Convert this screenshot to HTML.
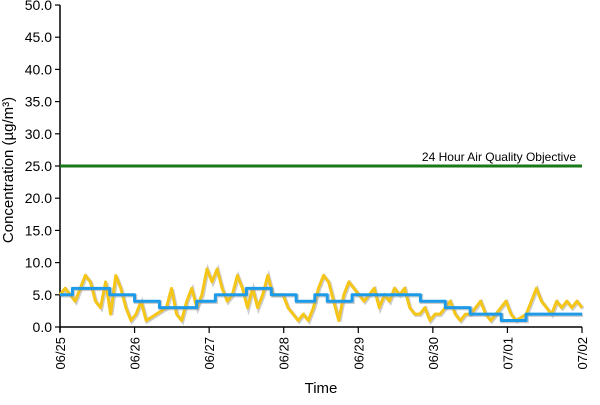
<!DOCTYPE html>
<html><head><meta charset="utf-8"><style>
body{margin:0;background:#fff;}
text{font-family:"Liberation Sans",Arial,sans-serif;fill:#000;}
</style></head><body>
<svg id="chart" width="600" height="400" xmlns="http://www.w3.org/2000/svg"></svg>
<script>
const dayLabels=["06/25","06/26","06/27","06/28","06/29","06/30","07/01","07/02"];
const yTicks=[0,5,10,15,20,25,30,35,40,45,50];
const objective=25;
// 2-hourly readings
const hourlyValues=[5,6,5,4,6,8,7,4,3,7,2,8,6,3,1,2,4,1,1.5,2,2.5,3,6,2,1,4,6,3,5,9,7,9,6,4,5,8,6,3,6,3,5,8,5,5,5,3,2,1,2,1,3,6,8,7,4,1,5,7,6,5,4,5,6,3,5,4,6,5,6,3,2,2,3,1,2,2,3,4,2,1,2,2,3,4,2,1,2,3,4,2,1,1.5,2,4,6,4,3,2,4,3,4,3,4,3];
const rollingValues=[5,5,6,6,6,6,6,6,5,5,5,5,4,4,4,4,3,3,3,3,3,3,4,4,4,5,5,5,5,5,6,6,6,6,5,5,5,5,4,4,4,5,5,4,4,4,4,5,5,5,5,5,5,5,5,5,5,5,4,4,4,4,3,3,3,3,2,2,2,2,2,1,1,1,1,2,2,2,2,2,2,2,2,2,2];
const svg=document.getElementById('chart');
const NS='http://www.w3.org/2000/svg';
const X0=60,X1=582,Y0=327,Y1=5;
const sy=v=>Y0-(v/50)*(Y0-Y1);
const sxDay=d=>X0+d*(X1-X0)/7;
function el(t,a,p){const e=document.createElementNS(NS,t);for(const k in a)e.setAttribute(k,a[k]);(p||svg).appendChild(e);return e;}
const ax=el('g',{});


el('line',{x1:X0,y1:Y1,x2:X0,y2:Y0+5,stroke:'#000','stroke-width':1.5},ax);
el('line',{x1:X0,y1:Y0,x2:X1,y2:Y0,stroke:'#000','stroke-width':1.5},ax);
yTicks.forEach(v=>{
  el('line',{x1:X0-5,y1:sy(v),x2:X0,y2:sy(v),stroke:'#000','stroke-width':1.2},ax);
  const t=el('text',{x:X0-8,y:sy(v)+5,'text-anchor':'end','font-size':14},ax);
  
  
  t.textContent=v.toFixed(1);
});
dayLabels.forEach((d,i)=>{
  const x=sxDay(i);
  el('line',{x1:x,y1:Y0,x2:x,y2:Y0+6,stroke:'#000','stroke-width':1.2},ax);
  const t=el('text',{x:0,y:0,'text-anchor':'end','font-size':13,transform:`translate(${x+5},${Y0+10}) rotate(-90)`},ax);
  
  
  t.textContent=d;
});
const yt=el('text',{x:0,y:0,'text-anchor':'middle','font-size':15,transform:`translate(13,${(Y0+Y1)/2+4}) rotate(-90)`});


yt.textContent='Concentration (µg/m³)';
const xt=el('text',{x:321,y:393,'text-anchor':'middle','font-size':15});


xt.textContent='Time';
const ol=el('line',{x1:X0,y1:sy(objective),x2:X1,y2:sy(objective),stroke:'#1a7a1a','stroke-width':3});


const ot=el('text',{x:576,y:sy(objective)-5,'text-anchor':'end','font-size':12});


ot.textContent='24 Hour Air Quality Objective';
function path(vals,color,name,step){
  const n=vals.length-1;const sx=i=>X0+i*(X1-X0)/n;
  let d='';
  vals.forEach((v,i)=>{
    if(i===0)d+=`M${sx(i)},${sy(v)}`;
    else if(step)d+=`L${sx(i)},${sy(vals[i-1])}L${sx(i)},${sy(v)}`;
    else d+=`L${sx(i)},${sy(v)}`;
  });
  el('path',{d,fill:'none',stroke:'#999','stroke-width':3.5,transform:'translate(1,1)',opacity:0.5});
  const p=el('path',{d,fill:'none',stroke:color,'stroke-width':3,'stroke-linejoin':'round'});
  
  
}
path(hourlyValues,'#f5c518','hourly-concentration-line',false);
path(rollingValues,'#1e9be8','rolling-24h-average-line',true);
</script>
</body></html>
